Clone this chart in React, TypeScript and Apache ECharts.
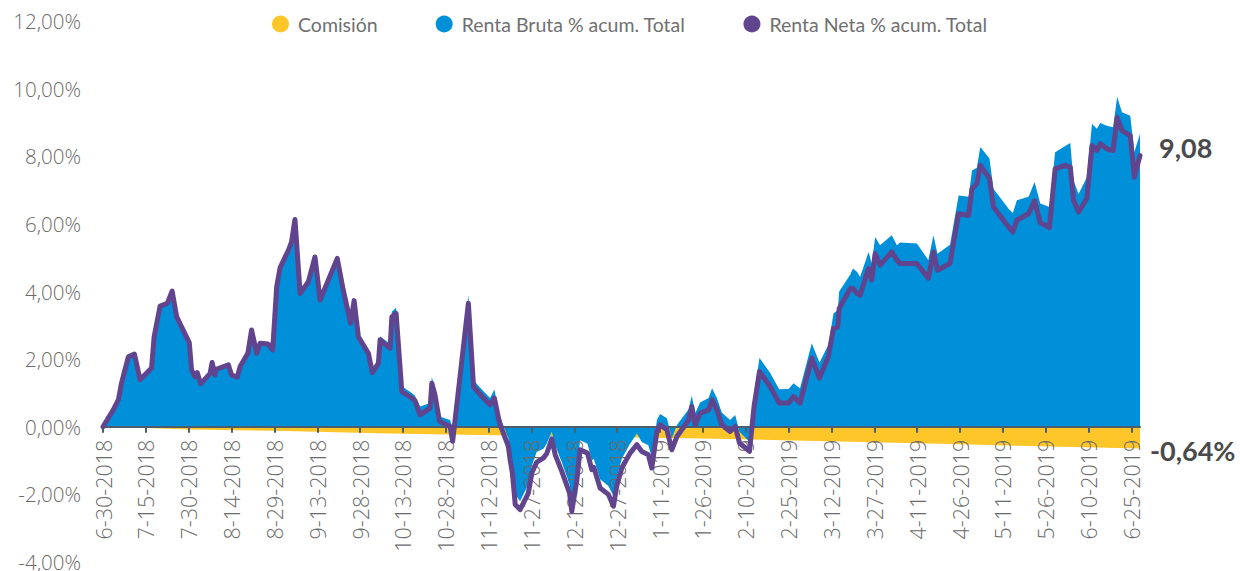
import React, { useEffect, useRef } from "react";
import * as echarts from "echarts";

// x positions are day offsets from 6-30-2018
const tickLabels = [
  "6-30-2018", "7-15-2018", "7-30-2018", "8-14-2018", "8-29-2018", "9-13-2018",
  "9-28-2018", "10-13-2018", "10-28-2018", "11-12-2018", "11-27-2018", "12-12-2018",
  "12-27-2018", "1-11-2019", "1-26-2019", "2-10-2019", "2-25-2019", "3-12-2019",
  "3-27-2019", "4-11-2019", "4-26-2019", "5-11-2019", "5-26-2019", "6-10-2019", "6-25-2019",
];
const tickStepDays = 15;
const lastDay = 363;
const yMin = -4;
const yMax = 12;
const yStep = 2;

const sampleDays = [
  0, 3.6, 5.4, 6.5, 8.9, 11, 13, 17, 17.9, 20, 22.5, 24.2, 25.8, 30.2, 31, 32.2, 33, 34.2,
  37.5, 38.2, 39.2, 39.6, 43.9, 45, 47, 48, 50.7, 52, 53.8, 55, 57.7, 59.4, 60.8, 62, 64.9,
  66, 67.2, 69, 71.9, 74.2, 76, 82, 84.1, 86.7, 87.9, 89.4, 92.9, 94.3, 96.4, 97, 100.5,
  101.1, 102.6, 104.6, 108.1, 109.2, 111, 114.5, 115.1, 116.2, 117.8, 121.5, 122.4, 127.9,
  129.7, 130.5, 133.2, 135.5, 137, 138.8, 141.9, 142.5, 143.3, 144.3, 146, 148.9, 150.1,
  151.8, 154.2, 155.3, 157.1, 158.3, 160.6, 163.3, 164.1, 165.9, 167, 169.6, 171.1, 171.8,
  174, 176.9, 178.7, 179.8, 181.6, 184.5, 186.9, 188.6, 190.9, 192.1, 193.9, 195, 197.4,
  199.1, 200.9, 205, 206.1, 207.3, 209, 212, 213.2, 214.9, 216.6, 219.5, 221.3, 222.8,
  226.3, 227.9, 229.8, 233.5, 236.7, 240, 241.7, 244, 248.1, 250.8, 253.9, 255.7, 257.2,
  257.7, 261.6, 262.5, 264, 265, 268, 269.1, 270.3, 272, 276.1, 277.9, 279, 284.9, 288.9,
  290.7, 292.1, 296.5, 299.5, 303, 304.2, 305.9, 307.1, 310.3, 311.7, 317, 318.5, 319.9,
  324, 326.1, 328.1, 331.3, 333.3, 336.8, 338.6, 339.7, 341.5, 344.4, 346.2, 347.9, 349.1,
  351.4, 353.6, 355, 356.7, 359.6, 361, 363,
];

const netaValues = [
  0, 0.5, 0.8, 1.3, 2.07, 2.15, 1.39, 1.74, 2.66, 3.57, 3.65, 4.01, 3.25, 2.49, 1.68, 1.48, 1.6, 1.27,
  1.58, 1.9, 1.53, 1.7, 1.83, 1.53, 1.47, 1.78, 2.17, 2.86, 2.17, 2.47, 2.45, 2.27, 4.14, 4.71, 5.22,
  5.47, 6.13, 3.94, 4.29, 5.02, 3.75, 4.98, 4.04, 3.06, 3.73, 2.66, 2.17, 1.6, 1.88, 2.57, 2.32,
  3.25, 3.35, 1.04, 0.85, 0.77, 0.35, 0.55, 1.29, 0.94, 0.16, 0.01, -0.43, 3.65,
  1.19, 1.1, 0.85, 0.65, 0.85, 0.11, -0.58, -0.97, -1.37, -2.3, -2.45, -1.96, -1.37,
  -1.05, -0.92, -0.8, -0.36, -0.83, -1.32, -1.96, -2.5, -1.56, -0.68, -0.78, -1.27, -1.2,
  -1.81, -2.0, -2.35, -1.76, -1.22, -0.78, -0.53, -0.73, -0.83, -1.22, -0.14, 0.06, -0.09,
  -0.68, -0.29, 0.2, 0.6, 0.06, 0.4, 0.5, 0.8, 0.5, 0.06, -0.14, 0.01, -0.48,
  -0.73, 0.6, 1.63, 1.19, 0.7, 0.7, 0.89, 0.7, 2.03, 1.44, 2.07, 2.91, 2.95,
  3.5, 4.09, 4.09, 3.94, 3.89, 4.68, 4.34, 5.12, 4.78, 5.17, 4.93, 4.83, 4.83, 4.39,
  5.17, 4.63, 4.83, 6.3, 6.25, 7.04, 7.19, 7.73, 7.34, 6.5, 5.91, 5.76, 6.11,
  6.3, 6.68, 6.03, 5.89, 7.63, 7.73, 7.68, 6.7, 6.35, 6.75, 8.32, 8.17, 8.37,
  8.22, 8.17, 9.15, 8.76, 8.61, 7.38, 8.02,
];

const brutaValues = [
  0, 0.52, 0.83, 1.33, 2.1, 2.2, 1.42, 1.77, 2.7, 3.6, 3.7, 4.06, 3.3, 2.54, 1.73, 1.52, 1.65, 1.32,
  1.63, 1.95, 1.58, 1.75, 1.88, 1.58, 1.52, 1.83, 2.22, 2.92, 2.23, 2.53, 2.51, 2.33, 4.2, 4.77, 5.28,
  5.53, 6.2, 4.0, 4.36, 5.1, 3.82, 5.06, 4.12, 3.14, 3.82, 2.75, 2.26, 1.7, 1.98, 2.68, 2.45,
  3.4, 3.52, 1.2, 1.0, 0.92, 0.6, 0.7, 1.48, 1.1, 0.3, 0.2, -0.05, 3.89,
  1.45, 1.3, 1.05, 0.85, 1.1, 0.35, -0.35, -0.7, -1.1, -2.0, -2.2, -1.7, -1.15,
  -0.75, -0.65, -0.5, -0.15, -0.55, -1.05, -1.7, -2.2, -1.3, -0.4, -0.5, -1.0, -0.95,
  -1.55, -1.75, -2.05, -1.5, -0.95, -0.5, -0.2, -0.45, -0.55, -0.9, 0.2, 0.38, 0.25,
  -0.35, 0.05, 0.52, 0.92, 0.4, 0.72, 0.85, 1.14, 0.85, 0.42, 0.2, 0.35, -0.15,
  -0.45, 0.95, 2.03, 1.6, 1.11, 1.12, 1.29, 1.14, 2.47, 1.9, 2.42, 3.35, 3.45,
  4.0, 4.5, 4.68, 4.58, 4.43, 5.17, 4.83, 5.61, 5.37, 5.66, 5.37, 5.45, 5.42, 4.93,
  5.66, 5.12, 5.38, 6.84, 6.8, 7.58, 7.66, 8.27, 7.93, 7.04, 6.45, 6.32, 6.7,
  6.8, 7.24, 6.6, 6.5, 8.12, 8.3, 8.39, 7.29, 6.88, 7.38, 8.96, 8.81, 8.98,
  8.9, 8.86, 9.76, 9.3, 9.2, 8.12, 8.66,
];

const comisionDays = [0, 15, 30, 60, 100, 150, 210, 250, 293, 320, 363];
const comisionValues = [0, -0.04, -0.08, -0.12, -0.2, -0.27, -0.35, -0.42, -0.5, -0.56, -0.64];

const netaEndLabel = "9,08";
const comisionEndLabel = "-0,64%";

const seriesNames = ["Comisión", "Renta Bruta % acum. Total", "Renta Neta % acum. Total"];
const colors = ["#FFC629", "#0090DA", "#61448E"];

const FONT = "Lato, 'Noto Sans', sans-serif";
const AXIS_FONT = "'Open Sans', Lato, sans-serif";

const GRID_TOP = 21;
const GRID_BOTTOM = 9;
const HEIGHT = 571;

export default function App() {
  const ref = useRef<HTMLDivElement | null>(null);

  useEffect(() => {
    if (!ref.current) return;
    const chart = echarts.init(ref.current, undefined, { renderer: "svg" });
    const pairs = (xs: number[], ys: number[]) => xs.map((x, i) => [x, ys[i]]);
    const tickValues = tickLabels.map((_, i) => i * tickStepDays);
    const gridH = HEIGHT - GRID_TOP - GRID_BOTTOM;
    // move the date axis up from the grid bottom to the zero line
    const zeroOffset = -(gridH * (0 - yMin)) / (yMax - yMin);

    chart.setOption({
      animation: false,
      textStyle: { fontFamily: FONT },
      legend: {
        left: 272,
        top: 14,
        padding: 0,
        icon: "circle",
        itemWidth: 17,
        itemHeight: 17,
        itemGap: 58,
        textStyle: { fontSize: 19.5, color: "#707070", fontFamily: FONT, padding: [0, 0, 0, 4] },
        data: seriesNames,
      },
      grid: {
        left: 103,
        right: 100,
        top: GRID_TOP,
        bottom: GRID_BOTTOM,
        containLabel: false,
        outerBoundsMode: "none",
      },
      xAxis: {
        type: "value",
        min: 0,
        max: lastDay,
        z: 3,
        position: "bottom",
        offset: zeroOffset,
        splitLine: { show: false },
        axisLine: { show: true, onZero: false, lineStyle: { color: "#4D5E6B", width: 2 } },
        axisTick: {
          show: true,
          length: 6,
          customValues: tickValues,
          lineStyle: { color: "#4D5E6B", width: 2 },
        },
        axisLabel: {
          customValues: tickValues,
          rotate: 90,
          margin: 13,
          fontSize: 21.5,
          fontWeight: 300,
          color: "#6b6b6b",
          fontFamily: AXIS_FONT,
          hideOverlap: false,
          formatter: (v: number) => tickLabels[Math.round(v / tickStepDays)] ?? "",
        },
      },
      yAxis: {
        type: "value",
        min: yMin,
        max: yMax,
        interval: yStep,
        splitLine: { show: false },
        axisLine: { show: false },
        axisTick: { show: false },
        axisLabel: {
          margin: 22,
          fontSize: 20.5,
          fontWeight: 300,
          color: "#6b6b6b",
          fontFamily: AXIS_FONT,
          formatter: (v: number) => v.toFixed(2).replace(".", ",") + "%",
        },
      },
      series: [
        {
          name: seriesNames[0],
          type: "line",
          z: 1,
          data: pairs(comisionDays, comisionValues),
          showSymbol: false,
          symbol: "circle",
          color: colors[0],
          lineStyle: { width: 0, color: colors[0] },
          areaStyle: { color: colors[0], opacity: 1 },
          endLabel: {
            show: true,
            formatter: () => comisionEndLabel,
            distance: 10,
            offset: [0, 2],
            fontSize: 27,
            fontWeight: "bold",
            color: "#4a4a4a",
            fontFamily: FONT,
          },
        },
        {
          name: seriesNames[1],
          type: "line",
          z: 2,
          data: pairs(sampleDays, brutaValues),
          showSymbol: false,
          symbol: "circle",
          color: colors[1],
          lineStyle: { width: 0, color: colors[1] },
          areaStyle: { color: colors[1], opacity: 1 },
        },
        {
          name: seriesNames[2],
          type: "line",
          z: 5,
          data: pairs(sampleDays, netaValues),
          showSymbol: false,
          symbol: "circle",
          color: colors[2],
          lineStyle: { width: 5, color: colors[2], join: "round", cap: "round" },
          endLabel: {
            show: true,
            formatter: () => netaEndLabel,
            distance: 19,
            offset: [0, -8],
            fontSize: 27,
            fontWeight: "bold",
            color: "#4a4a4a",
            fontFamily: FONT,
          },
        },
      ],
    });

    return () => chart.dispose();
  }, []);

  return (
    <div
      ref={ref}
      style={{ position: "fixed", left: 0, top: 0, width: 1240, height: 571, background: "#fff" }}
    />
  );
}
